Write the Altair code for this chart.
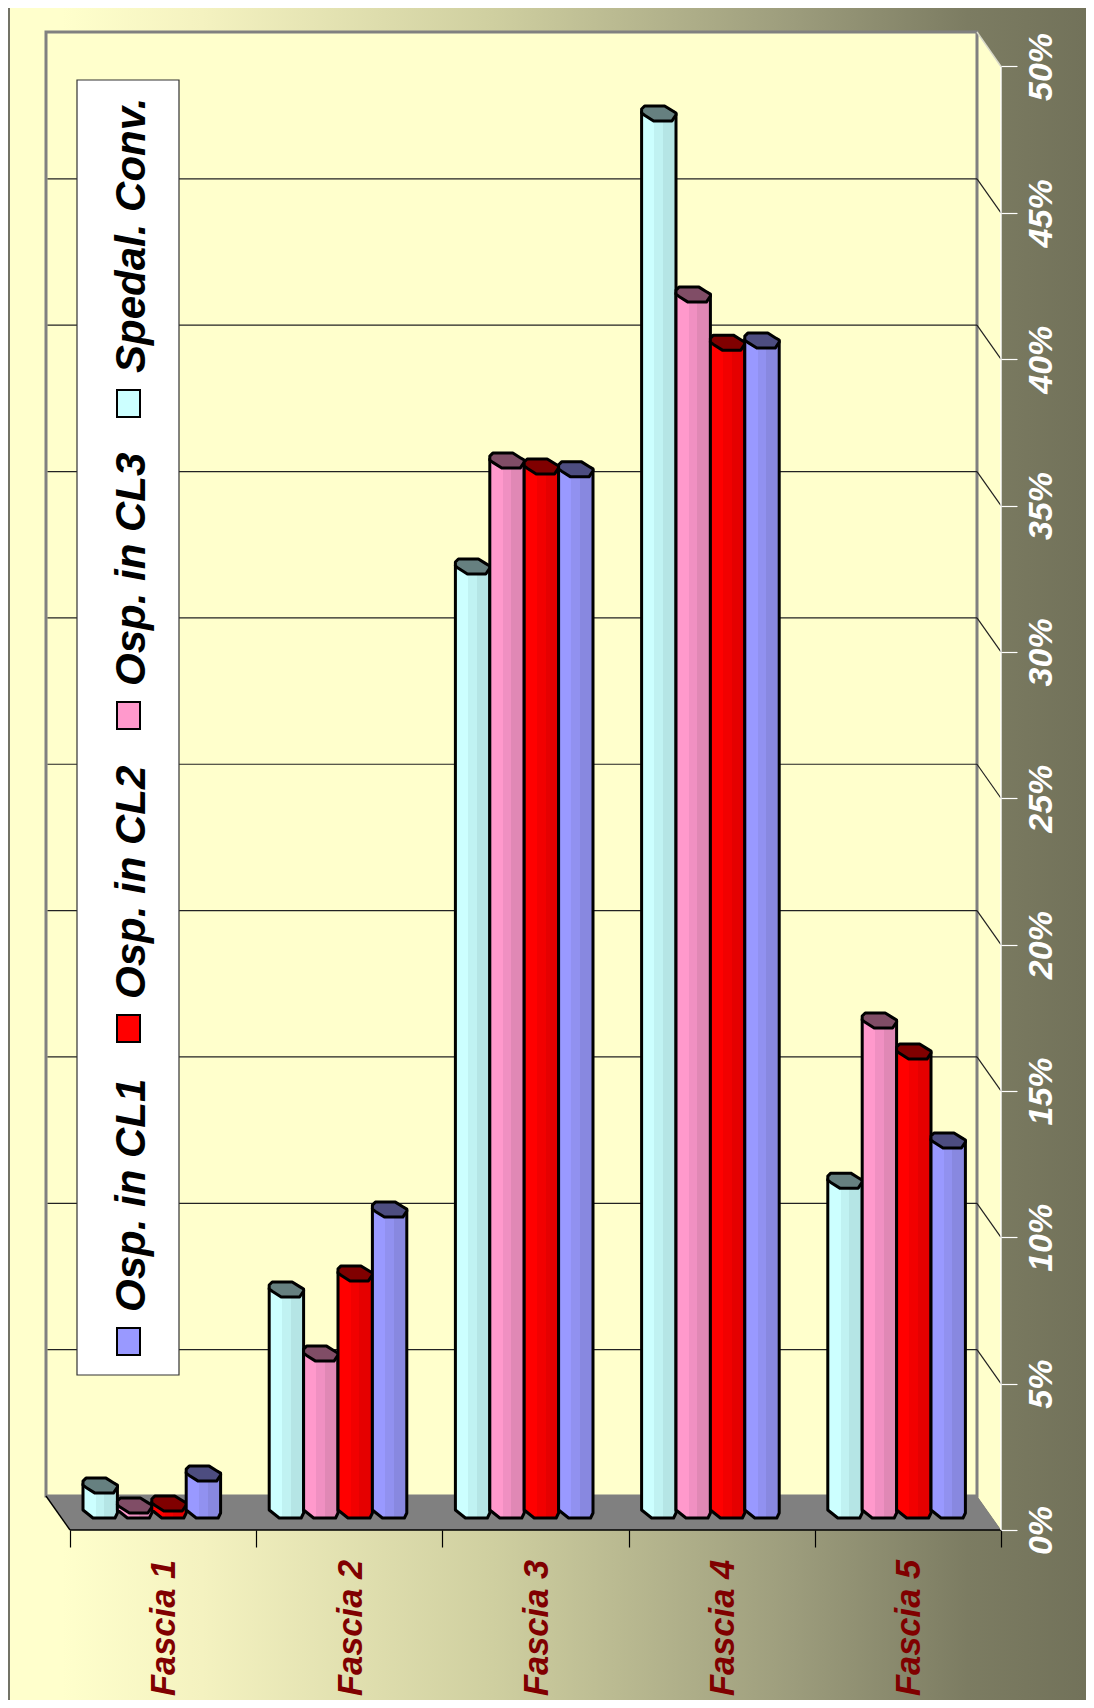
import altair as alt
import pandas as pd

CATEGORIES = ["Fascia 1", "Fascia 2", "Fascia 3", "Fascia 4", "Fascia 5"]
SERIES = ["Spedal. Conv.", "Osp. in CL3", "Osp. in CL2", "Osp. in CL1"]
SPEDAL = [0.85, 7.55, 32.25, 47.73, 11.27]
CL3 = [0.17, 5.36, 35.87, 41.54, 16.74]
CL2 = [0.24, 8.10, 35.67, 39.90, 15.68]
CL1 = [1.26, 10.28, 35.57, 39.97, 12.64]
VALUES = [SPEDAL, CL3, CL2, CL1]
TICKS = [0, 5, 10, 15, 20, 25, 30, 35, 40, 45, 50]
BODY = [["#CCFFFF", "#C0F2F2", "#B5E5E5"], ["#FF99CC", "#F090C2", "#E088B5"],
        ["#FF0000", "#F20000", "#E50000"], ["#9999FF", "#9191F0", "#8888E0"]]
CAP = ["#668080", "#804D66", "#800000", "#4D4D80"]
SWATCH = ["#CCFFFF", "#FF99CC", "#FF0000", "#9999FF"]

W, H = 1078, 1692
PX_CAT, PX_PCT = 186.2, 29.27
LEFT, FLOOR = 70, 1530  # page pixels of the front plane origin
DX, DY = 24 / PX_CAT, 34 / PX_PCT  # depth of the box, in data units


def cx(px):
    return (px - LEFT) / PX_CAT


def cy(py):
    return (FLOOR - py) / PX_PCT


xs = alt.Scale(domain=[cx(8), cx(8 + W)], range=[0, W], nice=False, zero=False)
ys = alt.Scale(domain=[cy(8 + H), cy(8)], range=[H, 0], nice=False, zero=False)
AX = alt.Axis(
    orient="bottom", offset=-(8 + H - FLOOR), values=list(range(6)), labels=False,
    domain=False, grid=False, tickColor="black", tickSize=17, tickWidth=1.2, zindex=1)
AY = alt.Axis(
    orient="right", offset=-(8 + W - 1001), values=TICKS, domain=False, grid=False,
    tickColor="white", tickSize=16, tickWidth=1.2, labelColor="white", labelFontSize=34,
    labelFont="Liberation Sans", labelFontWeight="bold", labelFontStyle="italic",
    labelAngle=270, labelAlign="center", labelBaseline="middle", labelPadding=24,
    labelExpr="datum.value + '%'", labelOverlap=False, labelBound=False, labelFlush=False, zindex=1)
X = alt.X("x:Q", scale=xs, axis=AX, title=None)
Y = alt.Y("y:Q", scale=ys, axis=AY, title=None)
X2 = alt.X2("x2:Q")
Y2 = alt.Y2("y2:Q")


def grad(stops):
    return alt.Gradient(gradient="linear", x1=0, x2=1, y1=0, y2=0,
                        stops=[alt.GradientStop(offset=o, color=c) for o, c in stops])


FONT = dict(font="Liberation Sans", fontWeight="bold", fontStyle="italic")

# background
bg = pd.DataFrame([{"x": cx(8), "x2": cx(8 + W), "y": cy(8), "y2": cy(8 + H)}])
background = alt.Chart(bg).mark_rect(fill=grad([
    (0, "#FFFFCC"), (0.05, "#FFFFCC"), (0.18, "#F4F2C0"), (0.45, "#CFCFA0"),
    (0.73, "#9C9C7C"), (0.89, "#7C7C62"), (1, "#72725A")])).encode(x=X, x2=X2, y=Y, y2=Y2)

frame = alt.Chart(pd.DataFrame([{"x": cx(9), "y": cy(8), "y2": cy(8 + H)}])).mark_rule(
    color="#444444", strokeWidth=1.5).encode(x=X, y=Y, y2=Y2)

# right side wall
side_wall = alt.Chart(pd.DataFrame([
    {"x": 5 - DX, "y": cy(32), "y2": cy(1496)},
    {"x": 5.0, "y": 50, "y2": 0},
])).mark_area(fill="#FFFFCC").encode(x=X, y=Y, y2=Y2)

# back wall
wall = alt.Chart(pd.DataFrame([{"x": -DX, "x2": 5 - DX, "y": cy(32), "y2": cy(1496)}])).mark_rect(
    fill="#FFFFCC", stroke="#808080", strokeWidth=3).encode(x=X, x2=X2, y=Y, y2=Y2)

# gridlines on the wall and the side
gridrows = []
for t in TICKS[1:-1]:
    gridrows.append({"x": -DX + 0.008, "x2": 5 - DX, "y": t + DY, "y2": t + DY})
    gridrows.append({"x": 5 - DX, "x2": 5.0, "y": t + DY, "y2": t})
grid = alt.Chart(pd.DataFrame(gridrows)).mark_rule(color="#222222", strokeWidth=1.2).encode(
    x=X, x2=X2, y=Y, y2=Y2)

# floor
floor = alt.Chart(pd.DataFrame([
    {"x": -DX, "y": DY, "y2": DY},
    {"x": 0.0, "y": DY, "y2": 0},
    {"x": 5 - DX, "y": DY, "y2": 0},
    {"x": 5.0, "y": 0, "y2": 0},
])).mark_area(fill="#808080").encode(x=X, y=Y, y2=Y2)
edges = alt.Chart(pd.DataFrame([
    {"x": 0.0, "x2": 5.0, "y": 0, "y2": 0, "c": "black"},
    {"x": -DX, "x2": 0.0, "y": DY, "y2": 0, "c": "black"},
    {"x": 5.0, "x2": 5.0, "y": 0, "y2": 50, "c": "white"},
    {"x": 5 - DX, "x2": 5.0, "y": cy(32), "y2": 50, "c": "#D8D8C8"},
])).mark_rule(strokeWidth=1.4).encode(
    x=X, x2=X2, y=Y, y2=Y2, color=alt.Color("c:N", scale=None))

# cylinders
BAR_W, BAR_START = 34.4 / PX_CAT, 13 / PX_CAT
CAP_Y0 = cy(1503)  # value level of the zero bar's cap top
BASE_Y = cy(1518)
layers = []
for s, vals in enumerate(VALUES):
    body, cap = [], []
    for g, v in enumerate(vals):
        x0 = g + BAR_START + s * BAR_W
        top = v + CAP_Y0
        p = 1 / PX_CAT
        for dx, ytop, rise in [(0, 6, 8), (10, 6, 0), (32, 6, 0), (34.4, 8, 5)]:
            body.append({"bar": g, "x": x0 + dx * p, "y": top - ytop / PX_PCT, "y2": BASE_Y + rise / PX_PCT})
        for dx, a, b in [(0, 3, 7), (3, 0, 9.3), (12, 0, 15), (23, 0, 15), (30.4, 4.6, 15), (34.4, 7, 9)]:
            cap.append({"bar": g, "x": x0 + dx * p, "y": top - a / PX_PCT, "y2": top - b / PX_PCT})
    c = BODY[s]
    layers.append(alt.Chart(pd.DataFrame(body)).mark_area(
        fill=grad([(0, c[0]), (0.37, c[0]), (0.37, c[1]), (0.62, c[1]), (0.62, c[2]), (1, c[2])]),
        stroke="black", strokeWidth=3, strokeJoin="round").encode(
        x=X, y=Y, y2=Y2, detail="bar:N"))
    layers.append(alt.Chart(pd.DataFrame(cap)).mark_area(
        fill=CAP[s], stroke="black", strokeWidth=3, strokeJoin="round").encode(
        x=X, y=Y, y2=Y2, detail="bar:N"))

# category labels
cat_df = pd.DataFrame({"label": CATEGORIES, "x": [i + 0.512 for i in range(5)], "y": [cy(1628)] * 5})
cat_text = alt.Chart(cat_df).mark_text(
    color="#800000", fontSize=34.5, angle=270, align="center", baseline="middle", **FONT).encode(
    x=X, y=Y, text="label:N")

# legend
box = alt.Chart(pd.DataFrame([{"x": cx(77), "x2": cx(179), "y": cy(80), "y2": cy(1375)}])).mark_rect(
    fill="white", stroke="#333333", strokeWidth=1.2).encode(x=X, x2=X2, y=Y, y2=Y2)
TEXT_START = [373, 686, 999, 1312]
SWATCH_TOP = [390, 702, 1015, 1328]
leg_sw = alt.Chart(pd.DataFrame({
    "x": [cx(117)] * 4, "x2": [cx(140)] * 4,
    "y": [cy(t) for t in SWATCH_TOP], "y2": [cy(t + 27) for t in SWATCH_TOP],
    "c": SWATCH})).mark_rect(stroke="black", strokeWidth=2).encode(
    x=X, x2=X2, y=Y, y2=Y2, fill=alt.Fill("c:N", scale=None))
leg_tx = alt.Chart(pd.DataFrame({
    "label": SERIES, "x": [cx(132)] * 4, "y": [cy(t) for t in TEXT_START]})).mark_text(
    color="black", fontSize=42, angle=270, align="left", baseline="middle", **FONT).encode(
    x=X, y=Y, text="label:N")

chart = alt.layer(
    background, frame, side_wall, wall, grid, floor, edges, *layers, cat_text, box, leg_sw, leg_tx
).properties(width=W, height=H, padding=0, autosize=alt.AutoSizeParams(type="none"),
             background="white").configure_view(stroke=None)

chart.save("out.html", embed_options={"renderer": "svg", "actions": False})
